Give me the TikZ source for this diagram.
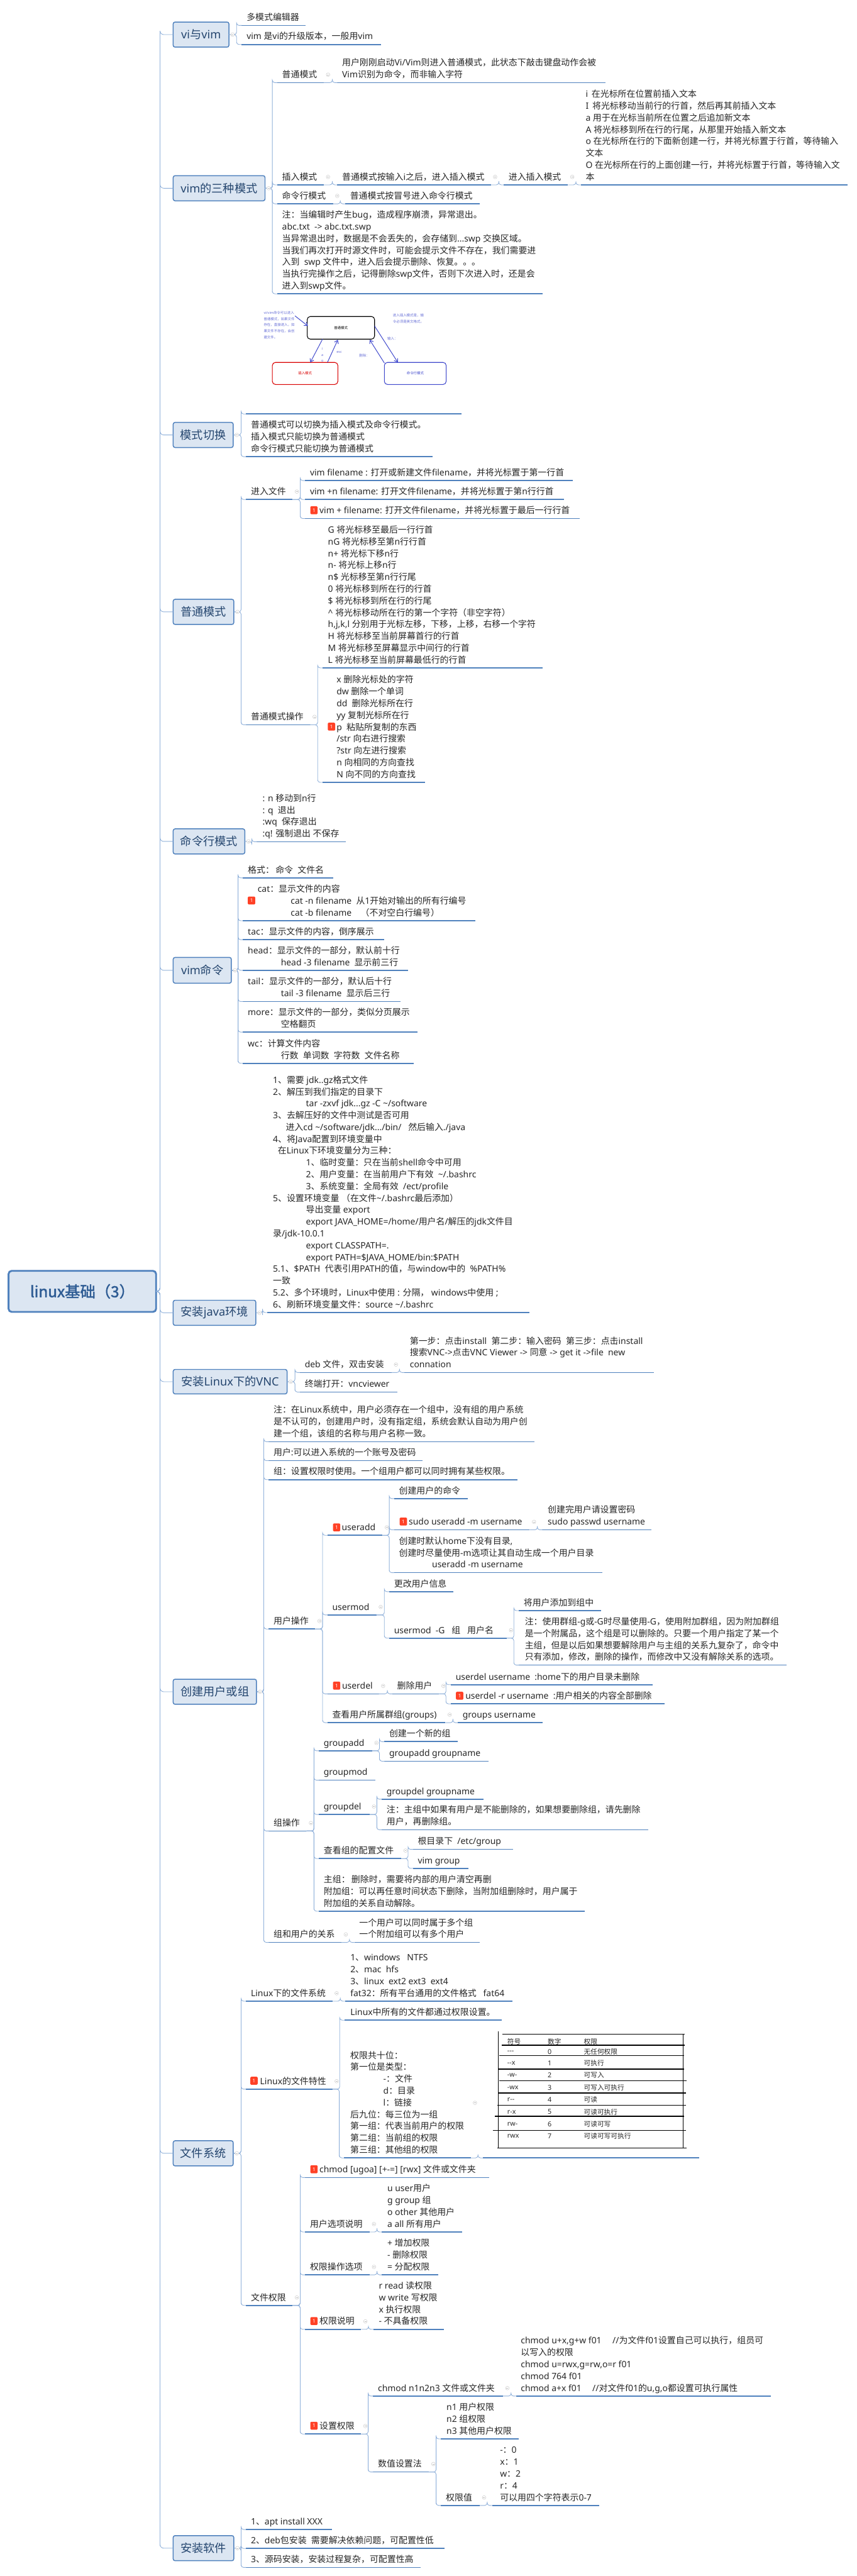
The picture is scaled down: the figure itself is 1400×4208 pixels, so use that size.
\documentclass[tikz,border=0pt]{standalone}
\usepackage{fontspec}
\setmainfont{Noto Sans}
\newfontfamily\cjkf{Noto Sans CJK SC}
\newfontfamily\rootf{Noto Sans CJK SC}[FakeBold=2]
\XeTeXinterchartokenstate=1
\newXeTeXintercharclass\cjkcl
\newcount\cjkcnt
\cjkcnt="3000
\loop\ifnum\cjkcnt<"A000 \XeTeXcharclass\cjkcnt=\cjkcl \advance\cjkcnt by 1 \repeat
\cjkcnt="FF00
\loop\ifnum\cjkcnt<"FFF0 \XeTeXcharclass\cjkcnt=\cjkcl \advance\cjkcnt by 1 \repeat
\XeTeXinterchartoks 0 \cjkcl={\cjkf}
\XeTeXinterchartoks 4095 \cjkcl={\cjkf}
\XeTeXinterchartoks \cjkcl 0={\rmfamily}
\XeTeXinterchartoks \cjkcl 4095={\rmfamily}
\usetikzlibrary{calc,arrows.meta}
\definecolor{ulc}{HTML}{4F81BD}
\definecolor{conc}{HTML}{8FB0DA}
\definecolor{boxf}{HTML}{DCE6F2}
\definecolor{txt}{HTML}{262626}
\definecolor{ltxt}{HTML}{25466F}
\definecolor{roottxt}{HTML}{2E5C94}
\definecolor{purp}{HTML}{3F48CC}
\tikzset{
 tp/.style={inner xsep=0pt,inner ysep=2.2pt,outer sep=0pt,text=txt,font=\fontsize{14.3}{19.3}\selectfont},
 ul/.style={draw=ulc,line width=1.7pt},
 conn/.style={draw=conc,line width=.9pt,rounded corners=4pt},
 lbox/.style={draw=ulc,line width=1.5pt,fill=boxf,rounded corners=3pt,text=ltxt,inner sep=0pt,outer sep=0pt,font=\fontsize{18.7}{22}\selectfont},
 rootbox/.style={lbox,line width=3pt,rounded corners=5pt,text=roottxt,font=\fontsize{25}{29}\selectfont},
 badge/.style={fill=red!75!orange!85!white,rounded corners=1.5pt,text=white,inner sep=0pt,minimum width=12pt,minimum height=13pt,font=\fontsize{8}{9}\selectfont},
 coll/.style={draw=black!18,line width=.6pt,fill=white},
 mbox/.style={line width=1.1pt,rounded corners=5pt,inner sep=0pt,outer sep=0pt,font=\fontsize{5.6}{10}\selectfont},
 marr/.style={draw=purp,line width=1pt,-{Straight Barb[length=5pt,width=7pt]}},
 tiny/.style={inner sep=0pt,outer sep=0pt,text=purp!80!white,font=\fontsize{5.6}{10}\selectfont,align=left,anchor=west},
 tabln/.style={draw=black,line width=1.4pt},
 tabtx/.style={inner sep=0pt,outer sep=0pt,anchor=west,text=txt,font=\fontsize{11}{13}\selectfont},
}
\newcommand\indt{\hspace*{54pt}}
\newcommand\tp[6][8]{%
 \pgfmathsetmacro\tpw{#5-#3}%
 \node[tp,name=#2,anchor=south west] at (#3,#4) {\makebox[\tpw pt][l]{\hspace*{#1pt}\begin{tabular}{@{}l@{}}#6\end{tabular}}};
 \draw[ul] (#2.south west)--(#2.south east);}
\newcommand\lb[6]{%
 \pgfmathsetmacro\lbw{#4-#2}\pgfmathsetmacro\lbh{#5-#3}%
 \pgfmathsetmacro\lbx{(#4+#2)/2}\pgfmathsetmacro\lby{(#5+#3)/2}%
 \node[lbox,name=#1,minimum width=\lbw pt,minimum height=\lbh pt] at (\lbx,\lby) {#6};}
\newcommand\kids[3][13]{%
 \foreach \kc in {#3}{\draw[conn] (#2.south east) -| ($(\kc.south west)+(-8,0)$) |- (\kc.south west);}
 \draw[coll] ($(#2.south east)+(7,-#1)$) circle (3pt);
 \draw[draw=black!25,line width=.5pt] ($(#2.south east)+(5.5,-#1)$)--($(#2.south east)+(8.5,-#1)$);}
\newcommand\bkids[2]{%
 \foreach \kc in {#2}{\draw[conn] (#1.east) -| ($(\kc.south west)+(-8,0)$) |- (\kc.south west);}
 \draw[coll] ($(#1.east)+(6,0)$) circle (3pt);
 \draw[draw=black!25,line width=.5pt] ($(#1.east)+(4.5,0)$)--($(#1.east)+(7.5,0)$);}
\newcommand\bdg[3]{\node[badge,name=#1] at ({#2+6},#3) {1};}
\begin{document}
\begin{tikzpicture}[x=1pt,y=-1pt]
\useasboundingbox (0,0) rectangle (1400,4208);
\fill[white] (0,0) rectangle (1400,4208);

% ---------- level one
\node[rootbox,name=root,minimum width=241pt,minimum height=67pt] at (134.5,2109.5) {\XeTeXinterchartokenstate=0 \rootf linux基础（3）};
\lb{vi}{283}{36}{374}{77}{vi与vim}
\lb{three}{283}{287}{433}{328}{vim的三种模式}
\lb{sw}{283}{690}{381}{731}{模式切换}
\lb{norm}{283}{979}{382}{1020}{普通模式}
\lb{cmdm}{283}{1354}{400}{1395}{命令行模式}
\lb{vimc}{283}{1564}{378}{1606}{vim命令}
\lb{java}{283}{2124}{418}{2165}{安装java环境}
\lb{vnc}{283}{2237}{469}{2277}{安装Linux下的VNC}
\lb{user}{283}{2743}{419}{2784}{创建用户或组}
\lb{fs}{283}{3497}{381}{3538}{文件系统}
\lb{soft}{283}{4142}{382}{4183}{安装软件}
\foreach \lv in {vi,three,sw,norm,cmdm,vimc,java,vnc,user,fs,soft}
 {\draw[conn,rounded corners=6pt] (root.east) -| ($(\lv.west)+(-21.5,0)$) |- (\lv.west);}

% ---------- vi与vim
\tp[8.5]{a1}{394.5}{41.5}{499}{多模式编辑器}
\tp[8.5]{a2}{394.5}{72.7}{623}{vim 是vi的升级版本，一般用vim}
\bkids{vi}{a1,a2}

% ---------- 三种模式
\tp{b1}{453}{135}{529}{普通模式}
\tp{b1a}{551}{135}{989}{用户刚刚启动Vi/Vim则进入普通模式，此状态下敲击键盘动作会被\\Vim识别为命令，而非输入字符}
\tp{b2}{453}{302}{529}{插入模式}
\tp{b2a}{551}{302}{802}{普通模式按输入i之后，进入插入模式}
\tp{b2b}{823}{302}{928}{进入插入模式}
\tp{b2c}{949}{302}{1385}{i\hspace*{6pt}在光标所在位置前插入文本\\I\hspace*{6pt}将光标移动当前行的行首，然后再其前插入文本\\a 用于在光标当前所在位置之后追加新文本\\A 将光标移到所在行的行尾，从那里开始插入新文本\\o 在光标所在行的下面新创建一行，并将光标置于行首，等待输入\\文本\\O 在光标所在行的上面创建一行，并将光标置于行首，等待输入文\\本}
\tp{b3}{453}{333}{544}{命令行模式}
\tp{b3a}{564}{333}{784}{普通模式按冒号进入命令行模式}
\tp{b4}{453}{480}{887}{注：当编辑时产生bug，造成程序崩溃，异常退出。\\abc.txt\ \ -> abc.txt.swp\\当异常退出时，数据是不会丢失的，会存储到...swp 交换区域。\\当我们再次打开时源文件时，可能会提示文件不存在，我们需要进\\入到\ \ swp 文件中，进入后会提示删除、恢复。。。\\当执行完操作之后，记得删除swp文件，否则下次进入时，还是会\\进入到swp文件。}
\bkids{three}{b1,b2,b3,b4}
\kids{b1}{b1a}
\kids{b2}{b2a}
\kids{b2a}{b2b}
\kids{b2b}{b2c}
\kids{b3}{b3a}

% ---------- 模式切换
\tp{c1}{402}{676.3}{754}{}
\tp{c2}{402}{746}{707}{普通模式可以切换为插入模式及命令行模式。\\插入模式只能切换为普通模式\\命令行模式只能切换为普通模式}
\bkids{sw}{c1,c2}
% diagram
\node[mbox,name=dn,draw=black,minimum width=110pt,minimum height=37pt,text=black] at (557,535.5) {普通模式};
\node[mbox,name=di,draw=red!85!black,minimum width=107pt,minimum height=36pt,text=red!85!black] at (498.5,610) {插入模式};
\node[mbox,name=dc,draw=purp,minimum width=101pt,minimum height=36pt,text=purp] at (678.5,610) {命令行模式};
\coordinate (ds) at (482,516);
\draw[marr] (ds) -- ($(dn.west)+(1,-3)$);
\draw[marr] ($(dn.south west)+(25,0)$) -- ($(di.north west)+(62,0)$);
\draw[marr] ($(di.north west)+(90,0)$) -- ($(dn.south west)+(50,1)$);
\draw[marr] ($(dc.north west)+(0,1)$) -- ($(dn.south east)+(-8,1)$);
\draw[marr] ($(dn.east)+(0,-3)$) -- ($(dc.north west)+(22,0)$);
\node[tiny,name=dl1] at (431,531) {vi/vim命令可以进入\\普通模式，如果文件\\存在，直接进入，如\\果文件不存在，会创\\建文件。};
\node[tiny,name=dl2] at (642,520) {进入插入模式是，输\\令必须是英文格式。};
\node[tiny,name=dl3] at (633,553) {输入：};
\node[tiny,name=dl4] at (587,581) {删除：};
\node[tiny,name=dl5] at (550,575) {esc};
\node[tiny,name=dl6] at (525.5,570) {i};
\node[tiny,name=dl7] at (525,580) {a};
\node[tiny,name=dl8] at (525,590) {o};

% ---------- 普通模式
\tp{d1}{402}{816}{478}{进入文件}
\tp{d1a}{498.5}{785}{936}{vim filename : 打开或新建文件filename，并将光标置于第一行首}
\tp{d1b}{498.5}{816}{921.6}{vim +n filename: 打开文件filename，并将光标置于第n行行首}
\tp[23.5]{d1c}{498.5}{847}{947}{vim + filename: 打开文件filename，并将光标置于最后一行行首}
\bdg{bd1}{507}{833.5}
\tp{d2}{402}{1184}{507}{普通模式操作}
\tp[9]{d2a}{527}{1091}{886.5}{G 将光标移至最后一行行首\\nG 将光标移至第n行行首\\n+ 将光标下移n行\\n- 将光标上移n行\\n\$ 光标移至第n行行尾\\0 将光标移到所在行的行首\\\$ 将光标移到所在行的行尾\\\textasciicircum\ 将光标移动所在行的第一个字符（非空字符）\\h,j,k,l 分别用于光标左移，下移，上移，右移一个字符\\H 将光标移至当前屏幕首行的行首\\M 将光标移至屏幕显示中间行的行首\\L 将光标移至当前屏幕最低行的行首}
\tp[23]{d2b}{527}{1278}{694}{x 删除光标处的字符\\dw 删除一个单词\\dd\ \ 删除光标所在行\\yy 复制光标所在行\\p\ \ 粘贴所复制的东西\\/str 向右进行搜索\\?str 向左进行搜索\\n 向相同的方向查找\\N 向不同的方向查找}
\bdg{bd2}{535.6}{1187}
\bkids{norm}{d1,d2}
\kids{d1}{d1a,d1b,d1c}
\kids{d2}{d2a,d2b}

% ---------- 命令行模式
\tp[9.5]{e1}{419.5}{1375}{565}{: n 移动到n行\\: q\ \ 退出\\:wq\ \ 保存退出\\:q! 强制退出 不保存}
\bkids{cmdm}{e1}

% ---------- vim命令
\tp{f0}{397}{1434}{544}{格式：\,命令\ \ 文件名}
\tp[24]{f1}{397}{1504}{777}{cat：显示文件的内容\\\indt cat -n filename\ \ 从1开始对输出的所有行编号\\\indt cat -b filename\ \ \ \ （不对空白行编号）}
\bdg{bd3}{405}{1471}
\tp{f2}{397}{1535}{627.5}{tac：显示文件的内容，倒序展示}
\tp{f3}{397}{1585}{667}{head：显示文件的一部分，默认前十行\\\indt head -3 filename\ \ 显示前三行}
\tp{f4}{397}{1636}{654}{tail：显示文件的一部分，默认后十行\\\indt tail -3 filename\ \ 显示后三行}
\tp{f5}{397}{1686}{682}{more：显示文件的一部分，类似分页展示\\\indt 空格翻页}
\tp{f6}{397}{1737}{676}{wc：计算文件内容\\\indt 行数\ \ 单词数\ \ 字符数\ \ 文件名称}
\bkids{vimc}{f0,f1,f2,f3,f4,f5,f6}

% ---------- 安装java环境
\tp[9]{g1}{437}{2144}{865}{1、需要 jdk..gz格式文件\\2、解压到我们指定的目录下\\\indt tar -zxvf jdk...gz -C \textasciitilde/software\\3、去解压好的文件中测试是否可用\\\hspace*{21pt}进入cd \textasciitilde/software/jdk.../bin/\ \ \ 然后输入./java\\4、将Java配置到环境变量中\\\hspace*{8pt}在Linux下环境变量分为三种：\\\indt 1、临时变量：只在当前shell命令中可用\\\indt 2、用户变量：在当前用户下有效\ \ \textasciitilde/.bashrc\\\indt 3、系统变量：全局有效\ \ /ect/profile\\5、设置环境变量 （在文件\textasciitilde/.bashrc最后添加）\\\indt 导出变量 export\\\indt export JAVA\_HOME=/home/用户名/解压的jdk文件目\\录/jdk-10.0.1\\\indt export CLASSPATH=.\\\indt export PATH=\$JAVA\_HOME/bin:\$PATH\\5.1、\$PATH\ \ 代表引用PATH的值，与window中的\ \ \%PATH\%\\一致\\5.2、多个环境时，Linux中使用 : 分隔， windows中使用 ;\\6、刷新环境变量文件：source \textasciitilde/.bashrc}
\bkids{java}{g1}

% ---------- VNC
\tp{h1}{490}{2242}{640}{deb 文件，双击安装}
\tp[9]{h1a}{660.7}{2242}{1068}{第一步：点击install\ \ 第二步：输入密码\ \ 第三步：点击install\\搜索VNC->点击VNC Viewer -> 同意 -> get it ->file\ \ new\\connation}
\tp{h2}{490}{2274}{649}{终端打开：vncviewer}
\bkids{vnc}{h1,h2}
\kids{h1}{h1a}

% ---------- 创建用户或组
\tp{i1}{439}{2355}{873}{注：在Linux系统中，用户必须存在一个组中，没有组的用户系统\\是不认可的，创建用户时，没有指定组，系统会默认自动为用户创\\建一个组，该组的名称与用户名称一致。}
\tp{i2}{439}{2386}{690.6}{用户:可以进入系统的一个账号及密码}
\tp{i3}{439}{2417}{845}{组：设置权限时使用。一个组用户都可以同时拥有某些权限。}
\tp{i4}{439}{2661}{515}{用户操作}
\tp[23.5]{j1}{535}{2508}{625}{useradd}
\bdg{bd4}{544}{2495}
\tp{k1}{644}{2448}{764}{创建用户的命令}
\tp[24]{k2}{644}{2499}{865.5}{sudo useradd -m username}
\bdg{bd5}{653}{2485.5}
\tp[9]{k2a}{886}{2499}{1064.5}{创建完用户请设置密码\\sudo passwd username}
\tp{k3}{644}{2569}{984}{创建时默认home下没有目录,\\创建时尽量使用-m选项让其自动生成一个用户目录\\\indt useradd -m username}
\tp{j2}{535}{2638}{615}{usermod}
\tp{l1}{636}{2600}{741}{更改用户信息}
\tp{l2}{636}{2676}{828}{usermod\ \ -G\ \ \ 组\ \ \ 用户名}
\tp{m1}{847.6}{2631}{982}{将用户添加到组中}
\tp[10]{m2}{847.6}{2720}{1285}{注：使用群组-g或-G时尽量使用-G，使用附加群组，因为附加群组\\是一个附属品，这个组是可以删除的。只要一个用户指定了某一个\\主组，但是以后如果想要解除用户与主组的关系九复杂了，命令中\\只有添加，修改，删除的操作，而修改中又没有解除关系的选项。}
\tp[24]{j3}{535}{2767}{619}{userdel}
\bdg{bd6}{544}{2753.5}
\tp{j3a}{641}{2767}{717.5}{删除用户}
\tp{n1}{736.6}{2752}{1066}{userdel username\ \ :home下的用户目录未删除}
\tp[24]{n2}{736.6}{2783.3}{1085.6}{userdel -r username\ \ :用户相关的内容全部删除}
\bdg{bd7}{745}{2770}
\tp{j4}{535}{2814}{727.7}{查看用户所属群组(groups)}
\tp{j4a}{748}{2814}{886.5}{groups username}
\tp{i5}{439}{2991}{501}{组操作}
\tp{o1}{521}{2860}{608}{groupadd}
\tp{p1}{628}{2845}{748}{创建一个新的组}
\tp{p2}{628}{2877}{798.5}{groupadd groupname}
\tp{o2}{521}{2908}{613.5}{groupmod}
\tp{o3}{521}{2964}{604}{groupdel}
\tp{q1}{623.7}{2939}{790}{groupdel groupname}
\tp{q2}{623.7}{2989}{1059}{注：主组中如果有用户是不能删除的，如果想要删除组，请先删除\\用户，再删除组。}
\tp{o4}{521}{3036}{655.6}{查看组的配置文件}
\tp{r1}{674.7}{3021}{838.7}{根目录下\ \ /etc/group}
\tp{r2}{674.7}{3052}{765}{vim group}
\tp{o5}{521}{3122}{955.4}{主组：\,删除时，需要将内部的用户清空再删\\附加组：可以再任意时间状态下删除，当附加组删除时，用户属于\\附加组的关系自动解除。}
\tp{i6}{439}{3173}{558}{组和用户的关系}
\tp{i6a}{579}{3173}{784}{一个用户可以同时属于多个组\\一个附加组可以有多个用户}
\bkids{user}{i1,i2,i3,i4,i5,i6}
\kids{i4}{j1,j2,j3,j4}
\kids{j1}{k1,k2,k3}
\kids{k2}{k2a}
\kids{j2}{l1,l2}
\kids{l2}{m1,m2}
\kids{j3}{j3a}
\kids{j3a}{n1,n2}
\kids{j4}{j4a}
\kids{i5}{o1,o2,o3,o4,o5}
\kids{o1}{p1,p2}
\kids{o3}{q1,q2}
\kids{o4}{r1,r2}
\kids{i6}{i6a}

% ---------- 文件系统
\tp{s1}{402}{3269}{543}{Linux下的文件系统}
\tp[8.5]{s1a}{564}{3269}{837}{1、windows\ \ \ NTFS\\2、mac\ \ hfs\\3、linux\ \ ext2 ext3\ \ ext4\\fat32：所有平台通用的文件格式\ \ \ fat64}
\tp[23]{s2}{402}{3412.7}{543}{Linux的文件特性}
\bdg{bd8}{409}{3399}
\tp[9.5]{t1}{563}{3300}{819.5}{Linux中所有的文件都通过权限设置。}
\tp[10]{t2}{562.4}{3525}{769}{权限共十位：\\第一位是类型：\\\indt -：文件\\\indt d：目录\\\indt l：链接\\后九位：每三位为一组\\第一组：代表当前用户的权限\\第二组：当前组的权限\\第三组：其他组的权限}
\tp{t2a}{789}{3525}{1142.6}{}
\tp{s3}{402}{3766}{478}{文件权限}
\tp[23.5]{u1}{498.5}{3557}{799.4}{chmod [ugoa] [+-=] [rwx] 文件或文件夹}
\bdg{bd9}{507}{3543.5}
\tp{u2}{498.5}{3646}{604}{用户选项说明}
\tp[9]{u2a}{624}{3646}{755}{u user用户\\g group 组\\o other 其他用户\\a all 所有用户}
\tp{u3}{498.5}{3716}{604}{权限操作选项}
\tp[9]{u3a}{624}{3716}{716}{+ 增加权限\\- 删除权限\\= 分配权限}
\tp[23.5]{u4}{498.5}{3805}{590}{权限说明}
\bdg{bd10}{507}{3791.5}
\tp[9]{u4a}{610}{3805}{725}{r read 读权限\\w write 写权限\\x 执行权限\\- 不具备权限}
\tp[23.5]{u5}{498.5}{3976}{590}{设置权限}
\bdg{bd11}{507}{3962.5}
\tp{v1}{609.6}{3914}{822}{chmod n1n2n3 文件或文件夹}
\tp{v1a}{843}{3914}{1260}{chmod u+x,g+w f01\hspace*{18pt}//为文件f01设置自己可以执行，组员可\\以写入的权限\\chmod u=rwx,g=rw,o=r f01\\chmod 764 f01\\chmod a+x f01\hspace*{18pt}//对文件f01的u,g,o都设置可执行属性}
\tp{v2}{609.6}{4038}{701}{数值设置法}
\tp[9]{w1}{720.6}{3984}{847.6}{n1 用户权限\\n2 组权限\\n3 其他用户权限}
\tp{w2}{720.6}{4092.7}{784}{权限值}
\tp[13]{w2a}{804}{4092.7}{979}{-：0\\x：1\\w：2\\r：4\\可以用四个字符表示0-7}
\bkids{fs}{s1,s2,s3}
\kids{s1}{s1a}
\kids{s2}{t1,t2}
\kids[90]{t2}{t2a}
\kids{s3}{u1,u2,u3,u4,u5}
\kids{u2}{u2a}
\kids{u3}{u3a}
\kids{u4}{u4a}
\kids{u5}{v1,v2}
\kids{v1}{v1a}
\kids{v2}{w1,w2}
\kids{w2}{w2a}
% table
\foreach \xa/\xb/\yy in {821/1119/3323,820/1119/3341,816/1118/3358,814/1118/3380,816/1122/3399,815/1121/3419,812.5/1121/3439,809/1118/3457,805/1121/3480,813/1122/3509}
 {\draw[tabln] (\xa,\yy) -- (\xb,\yy);}
\draw[tabln] (814,3318) -- (814,3509);
\draw[tabln,line width=1pt] (1116,3323) -- (1116,3509);
\foreach \rw/\sy/\nm/\de/\yy in {0/符号/数字/权限/3335,1/{-}{-}{-}/0/无任何权限/3352,2/{-}{-}x/1/可执行/3370,3/{-}w{-}/2/可写入/3390,4/{-}wx/3/可写入可执行/3410,5/r{-}{-}/4/可读/3430,6/r{-}x/5/可读可执行/3450,7/rw{-}/6/可读可写/3470,8/rwx/7/可读可写可执行/3489}
 {\node[tabtx,name=ts\rw] at (829,\yy) {\sy};
  \node[tabtx,name=tn\rw] at (895,\yy) {\nm};
  \node[tabtx,name=td\rw] at (954,\yy) {\de};}

% ---------- 安装软件
\tp{x1}{402}{4132}{542}{1、apt install XXX}
\tp{x2}{402}{4163}{726}{2、deb包安装\ \ 需要解决依赖问题，可配置性低}
\tp{x3}{402}{4194}{687.5}{3、源码安装，安装过程复杂，可配置性高}
\bkids{soft}{x1,x2,x3}
\end{tikzpicture}
\end{document}
